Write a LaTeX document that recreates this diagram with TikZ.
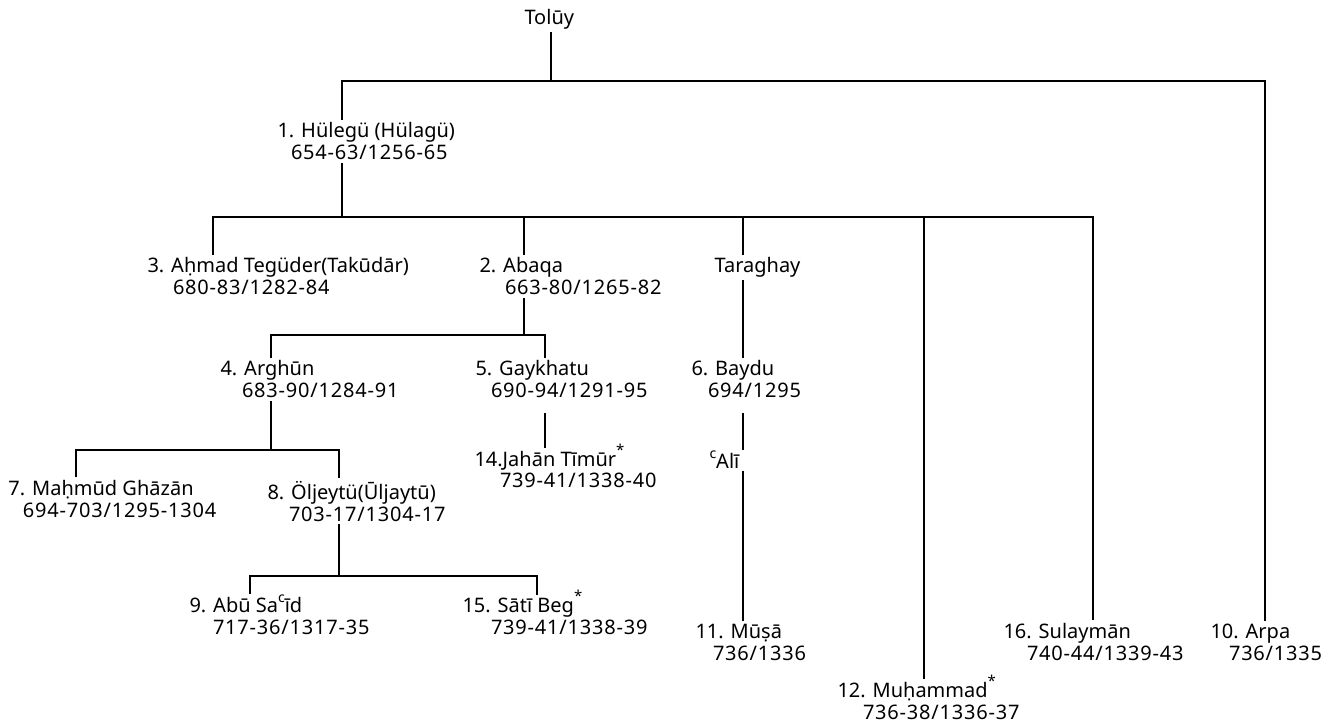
\documentclass[tikz,border=0pt]{standalone}
\usepackage{fontspec}
\setmainfont{Noto Sans}
\newfontfamily\datefont[LetterSpace=4]{Noto Sans}
\newcommand{\supc}{\raisebox{0.5em}[0pt][0pt]{\fontsize{14}{14}\selectfont c}}
\newcommand{\astmark}{\raisebox{0.55em}[0pt][0pt]{\fontsize{15}{15}\selectfont\bfseries *}}
\begin{document}
\begin{tikzpicture}[x=1pt,y=-1pt,
  nm/.style={anchor=base west, inner sep=0pt, outer sep=2.5pt, font=\fontsize{20}{22}\selectfont},
  dt/.style={anchor=base west, inner sep=0pt, outer sep=3pt, font=\fontsize{20}{22}\selectfont\datefont},
  link/.style={draw=black, line width=1.3pt}]
\useasboundingbox (0,0) rectangle (1334,727);
\fill[white] (0,0) rectangle (1334,727);

% people
\node[nm] (tolui) at (522,25) {Tolūy};
\node[nm] (hulegu) at (275,138) {1. Hülegü (Hülagü)};
\node[dt] (hulegud) at (288,160) {654-63/1256-65};

\node[nm] (ahmad) at (145,273) {3. Aḥmad Tegüder(Takūdār)};
\node[dt] (ahmadd) at (170,295) {680-83/1282-84};
\node[nm] (abaqa) at (477,273) {2. Abaqa};
\node[dt] (abaqad) at (502,295) {663-80/1265-82};
\node[nm] (taraghay) at (712,273) {Taraghay};

\node[nm] (arghun) at (218,376) {4. Arghūn};
\node[dt] (arghund) at (239,398) {683-90/1284-91};
\node[nm] (gaykhatu) at (473,376) {5. Gaykhatu};
\node[dt] (gaykhatud) at (488,398) {690-94/1291-95};
\node[nm] (baydu) at (689,376) {6. Baydu};
\node[dt] (baydud) at (705,398) {694/1295};

\node[nm] (jahan) at (472,466) {14.Jahān Tīmūr\astmark};
\node[dt] (jahand) at (497,487) {739-41/1338-40};
\node[nm] (ali) at (707,468) {\supc Alī};

\node[nm] (mahmud) at (6,495) {7. Maḥmūd Ghāzān};
\node[dt] (mahmudd) at (20,517) {694-703/1295-1304};
\node[nm] (oljeytu) at (265,499) {8. Öljeytü(Ūljaytū)};
\node[dt] (oljeytud) at (286,521) {703-17/1304-17};

\node[nm] (abusaid) at (187,612) {9. Abū Sa\supc īd};
\node[dt] (abusaidd) at (210,634) {717-36/1317-35};
\node[nm] (sati) at (460,612) {15. Sātī Beg\astmark};
\node[dt] (satid) at (488,634) {739-41/1338-39};

\node[nm] (musa) at (693,638) {11. Mūṣā};
\node[dt] (musad) at (710,660) {736/1336};
\node[nm] (sulayman) at (1001,638) {16. Sulaymān};
\node[dt] (sulaymand) at (1024,660) {740-44/1339-43};
\node[nm] (arpa) at (1208,638) {10. Arpa};
\node[dt] (arpad) at (1226,660) {736/1335};
\node[nm] (muhammad) at (835,697) {12. Muḥammad\astmark};
\node[dt] (muhammadd) at (860,719) {736-38/1336-37};

% junctions
\coordinate (t0) at (551,81);
\coordinate (t1) at (342,81);
\coordinate (t2) at (1265,81);
\coordinate (h0) at (342,217);
\coordinate (s1) at (213,217);
\coordinate (s2) at (524,217);
\coordinate (s3) at (743,217);
\coordinate (s4) at (924,217);
\coordinate (s5) at (1093,217);
\coordinate (a0) at (524,335);
\coordinate (a1) at (271,335);
\coordinate (a2) at (545,335);
\coordinate (r0) at (271,450);
\coordinate (r1) at (76,450);
\coordinate (r2) at (339,450);
\coordinate (o0) at (339,576);
\coordinate (o1) at (250,576);
\coordinate (o2) at (537,576);

% connectors
\draw[link] (tolui.south -| t0) -- (t0);
\draw[link] (hulegu.north -| t1) -- (t1) -- (t2) -- (arpa.north -| t2);

\draw[link] (hulegud.south -| h0) -- (h0);
\draw[link] (ahmad.north -| s1) -- (s1) -- (s5) -- (sulayman.north -| s5);
\draw[link] (abaqa.north -| s2) -- (s2);
\draw[link] (taraghay.north -| s3) -- (s3);
\draw[link] (muhammad.north -| s4) -- (s4);

\draw[link] (taraghay.south -| s3) -- (baydu.north -| s3);
\draw[link, shorten <=12pt] (baydud.south -| s3) -- (ali.north -| s3);
\draw[link] (ali.south -| s3) -- (musa.north -| s3);

\draw[link] (abaqad.south -| a0) -- (a0);
\draw[link] (arghun.north -| a1) -- (a1) -- (a2) -- (gaykhatu.north -| a2);
\draw[link, shorten <=12pt] (gaykhatud.south -| a2) -- (jahan.north -| a2);

\draw[link] (arghund.south -| r0) -- (r0);
\draw[link] (mahmud.north -| r1) -- (r1) -- (r2) -- (oljeytu.north -| r2);

\draw[link] (oljeytud.south -| o0) -- (o0);
\draw[link] (abusaid.north -| o1) -- (o1) -- (o2) -- (sati.north -| o2);
\end{tikzpicture}
\end{document}
